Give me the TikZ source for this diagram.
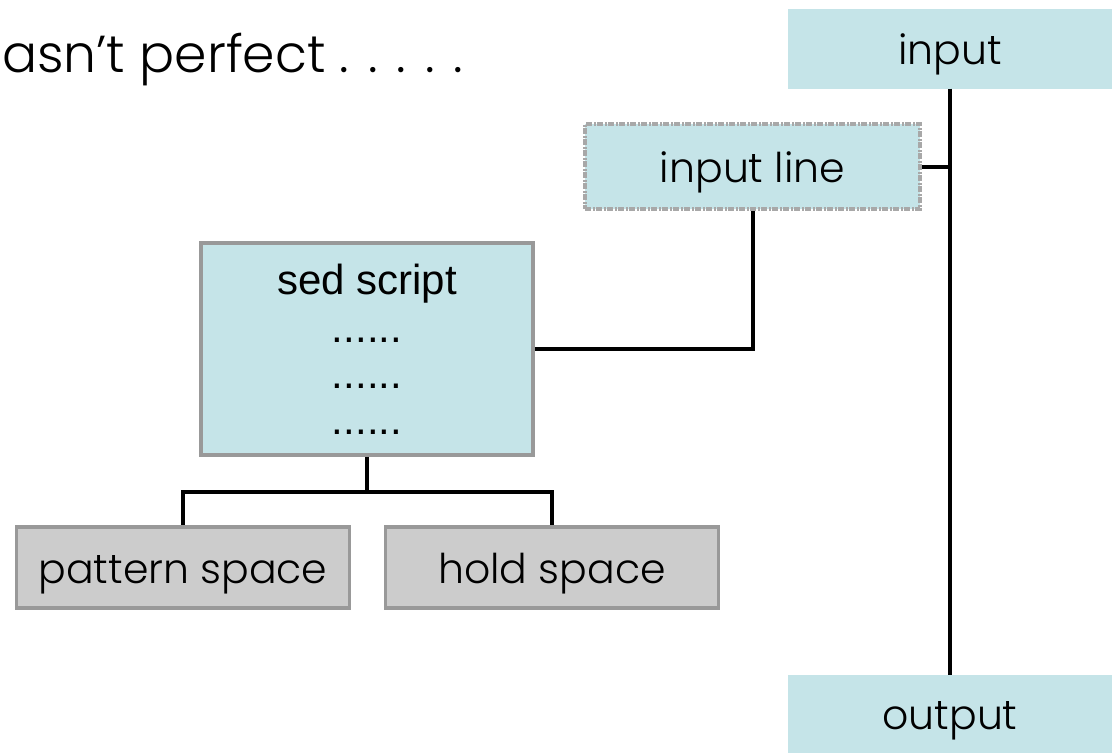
\documentclass[tikz,border=0pt]{standalone}
\usepackage{fontspec}
\setmainfont{Poppins}[UprightFont=* Light]
\newfontfamily\arialfont{Liberation Sans}
\usepackage{xcolor}
\definecolor{paleblue}{HTML}{C5E4E8}
\definecolor{boxgray}{HTML}{CCCCCC}
\definecolor{edgegray}{HTML}{999999}

\begin{document}
\begin{tikzpicture}[x=1pt,y=-1pt,
    label text/.style={font=\fontsize{41}{50}\selectfont, text height=33pt, text depth=2pt},
    flowbox/.style={label text, fill=paleblue, minimum width=324pt, minimum height=80pt, inner sep=0pt},
    linebox/.style={label text, fill=paleblue, draw=edgegray!85, line width=3.5pt,
      dash pattern=on 6pt off 1.5pt on 2pt off 1.5pt,
      minimum width=335pt, minimum height=85pt, inner sep=0pt},
    scriptbox/.style={fill=paleblue, draw=edgegray, line width=3.5pt,
      minimum width=332pt, minimum height=212pt, inner sep=0pt, align=center,
      font=\arialfont\fontsize{42}{46}\selectfont},
    spacebox/.style={label text, fill=boxgray, draw=edgegray, line width=3.5pt,
      minimum width=333pt, minimum height=81pt, inner sep=0pt},
    wire/.style={line width=4pt}]
  % Fix the page to the size of the slide
  \useasboundingbox (0,0) rectangle (1112,753);
  % Title, cut at the left edge
  \node[anchor=base west, inner sep=0pt, font=\fontsize{52}{60}\selectfont] (title) at (2,72) {asn’t perfect . . . . .};
  % Input and output of the stream
  \node[flowbox] (input) at (950,48.5) {input};
  \node[flowbox, minimum height=78pt] (output) at (950,714) {output};
  \node[linebox] (inline) at (752.5,166.5) {input line};
  % The script and its buffers
  \node[scriptbox] (sed) at (367,349) {sed script\\[2pt]......\\......\\......};
  \node[spacebox] (pattern) at (183,567.5) {pattern space};
  \node[spacebox] (hold) at (552,567.5) {hold space};
  % Connections
  \draw[wire] (input) -- (output);
  \draw[wire] (inline.east) -- (inline.east -| input.south);
  \draw[wire] (inline.south) |- (sed.east);
  \foreach \n in {pattern,hold} {
    \draw[wire] (sed.south) -- ++(0,35) -| (\n.north);
  }
\end{tikzpicture}
\end{document}
